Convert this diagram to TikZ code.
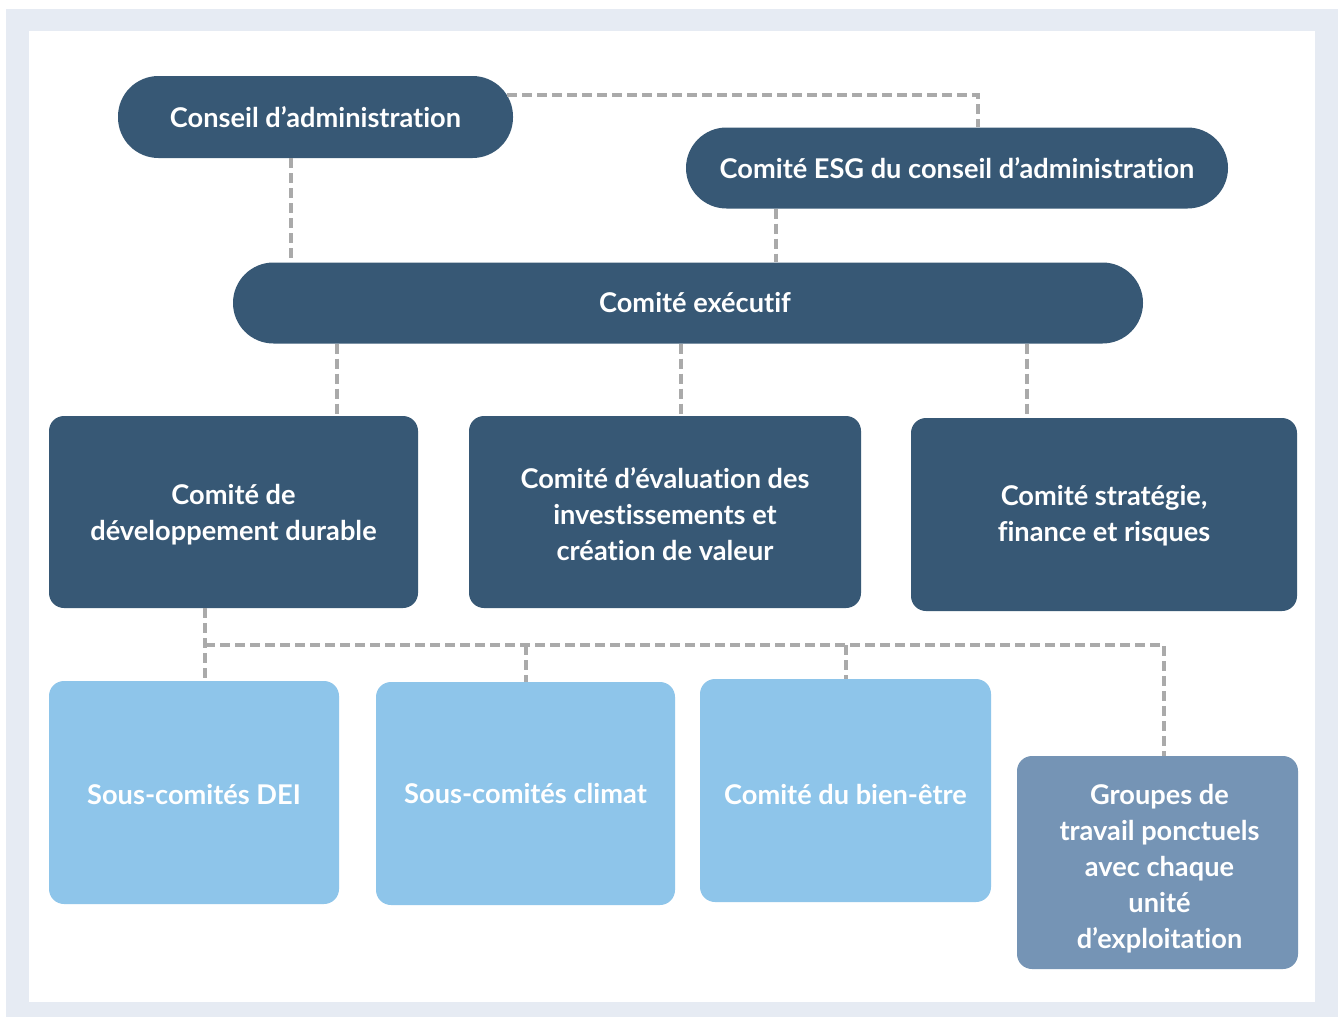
\documentclass[tikz,border=0pt]{standalone}
\usepackage{fontspec}
\setmainfont{Lato}[Ligatures={NoCommon}]
\definecolor{frame}{HTML}{E6EBF3}
\definecolor{darkb}{HTML}{375875}
\definecolor{lightb}{HTML}{8EC5EA}
\definecolor{midb}{HTML}{7594B5}
\definecolor{connc}{HTML}{AAAAAA}
\tikzset{
  txt/.style={text=white, inner sep=0pt, align=center, font=\bfseries\fontsize{27.2}{36}\selectfont},
  pill/.style={txt, fill=darkb, rounded corners=40.5pt, minimum height=82pt},
  darkbox/.style={fill=darkb, inner sep=0pt, rounded corners=15pt},
  lightbox/.style={fill=lightb, inner sep=0pt, rounded corners=15pt, minimum height=223pt},
  midbox/.style={fill=midb, inner sep=0pt, rounded corners=15pt},
  conn/.style={draw=connc, line width=4pt, dash pattern=on 10pt off 5pt}
}
\begin{document}
\begin{tikzpicture}[x=1pt,y=-1pt]
\useasboundingbox (0,0) rectangle (1338,1017);
\fill[frame] (6,9) rectangle (1338,1017);
\fill[white] (29,31) rectangle (1315,1002);

\node[pill, minimum width=395pt] (ca) at (315.5,117) {Conseil d’administration};
\node[pill, minimum width=542pt, minimum height=81pt] (esg) at (957,168) {Comité ESG du conseil d’administration};
\node[pill, minimum width=910pt, minimum height=81pt] (ex) at (688,303) {\hspace*{14pt}Comité exécutif};

\node[darkbox, minimum width=369pt, minimum height=192pt] (n4) at (233.5,512) {};
\node[txt] (n4t) at ([yshift=-3pt]n4.center) {Comité de\\développement durable};
\node[darkbox, minimum width=392pt, minimum height=192pt] (n5) at (665,512) {};
\node[txt] (n5t) at ([yshift=-2pt]n5.center) {Comité d’évaluation des\\investissements et\\création de valeur};
\node[darkbox, minimum width=386pt, minimum height=193pt] (n6) at (1104,514.5) {};
\node[txt] (n6t) at ([yshift=-1pt]n6.center) {Comité stratégie,\\finance et risques};

\node[lightbox, minimum width=290pt] (dei) at (194,792.5) {};
\node[txt] (deit) at ([yshift=-2pt]dei.center) {Sous-comités DEI};
\node[lightbox, minimum width=299pt] (clim) at (525.5,793.5) {};
\node[txt] (climt) at (clim.center) {Sous-comités climat};
\node[lightbox, minimum width=291pt] (bien) at (845.5,790.5) {};
\node[txt] (bient) at ([yshift=-4pt]bien.center) {Comité du bien-être};
\node[midbox, minimum width=281pt, minimum height=213pt] (grp) at (1157.5,862.5) {};
\node[txt] (grpt) at ([shift={(2pt,-6pt)}]grp.center) {Groupes de\\travail ponctuels\\avec chaque\\unité\\d’exploitation};

\coordinate (bus) at (205,645);

\draw[conn] ([xshift=-24.5pt]ca.south) -- ([xshift=-24.5pt]ca.south |- ex.north);
\draw[conn] ([shift={(-6pt,22pt)}]ca.east) -| ([xshift=21pt]esg.north);
\draw[conn] ([xshift=-181pt]esg.south) -- ([xshift=-181pt]esg.south |- ex.north);
\draw[conn] ([xshift=103.5pt]n4.north |- ex.south) -- ([xshift=103.5pt]n4.north);
\draw[conn] ([xshift=16pt]n5.north |- ex.south) -- ([xshift=16pt]n5.north);
\draw[conn] ([xshift=-77pt]n6.north |- ex.south) -- ([xshift=-77pt]n6.north);
\draw[conn] ([xshift=-28.5pt]n4.south) -- ([xshift=11pt]dei.north);
\draw[conn] (bus) -| ([xshift=6.5pt]grp.north);
\draw[conn] (bus -| clim.north) -- (clim.north);
\draw[conn] (bus -| bien.north) -- (bien.north);
\end{tikzpicture}
\end{document}
